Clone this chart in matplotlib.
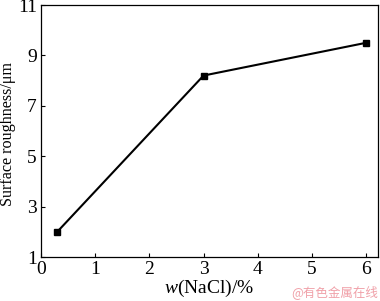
import matplotlib
matplotlib.use("Agg")
import matplotlib.pyplot as plt

nacl = [0.3, 3.0, 6.0]
roughness = [2.0, 8.2, 9.5]
xticks = [0, 1, 2, 3, 4, 5, 6]
yticks = [1, 3, 5, 7, 9, 11]

plt.rcParams['font.family'] = ['Liberation Serif', 'DejaVu Serif']
plt.rcParams['mathtext.fontset'] = 'custom'
plt.rcParams['mathtext.it'] = 'Liberation Serif:italic'
plt.rcParams['mathtext.rm'] = 'Liberation Serif'

fig = plt.figure(figsize=(3.8, 3.01), dpi=100)
ax = fig.add_axes([41/380, 1-257/301, (378-41)/380, (257-5)/301])
ax.plot(nacl, roughness, color='black', lw=1.5, marker='s', ms=5)
ax.set_xlim(0, 6.22)
ax.set_ylim(1, 11)
ax.set_xticks(xticks)
ax.set_yticks(yticks)
ax.tick_params(direction='in', labelsize=14, length=3, width=0.8, pad=3)
for s in ax.spines.values():
    s.set_linewidth(0.9)
ax.set_ylabel('Surface roughness/μm', fontsize=11.6)
ax.yaxis.set_label_coords(-25/337, 0.49)
ax.set_xlabel('$w$(NaCl)/%', fontsize=14, labelpad=0)
fig.text(0.995, 0.005, '@有色金属在线', fontsize=9, color='#f0a0a8', ha='right', va='bottom',
         family=['Noto Sans CJK SC', 'DejaVu Sans'])
fig.savefig('out.png', dpi=100)
